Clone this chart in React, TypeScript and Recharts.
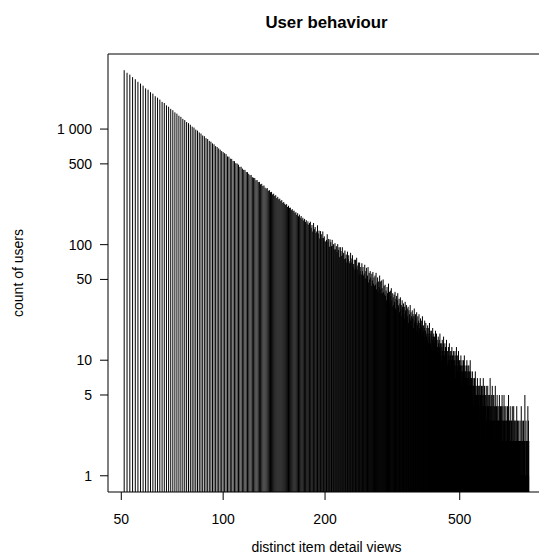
import React from "react";
import {
  BarChart,
  Bar,
  XAxis,
  YAxis,
  ReferenceArea,
} from "recharts";

// number of users per count of distinct item detail views, starting at 51 views
const FIRST_VIEW = 51;

// 51 - 100 views
const usersHead = [
  3230, 3070, 2960, 2815, 2700, 2565, 2475, 2375, 2250, 2190,
  2085, 2025, 1925, 1870, 1800, 1720, 1680, 1605, 1560, 1495,
  1455, 1395, 1360, 1305, 1275, 1225, 1195, 1150, 1125, 1090,
  1050, 1030, 990, 970, 935, 915, 880, 868, 835, 820,
  790, 778, 752, 738, 712, 700, 680, 664, 645, 632,
];

// 101 - 180 views
const usersMid = [
  618, 607, 580, 577, 555, 552, 530, 528, 507, 503,
  492, 471, 472, 455, 444, 443, 425, 424, 410, 399,
  401, 383, 379, 377, 361, 362, 348, 349, 333, 336,
  322, 325, 311, 305, 309, 293, 296, 284, 286, 272,
  276, 264, 268, 253, 259, 247, 250, 239, 243, 230,
  234, 226, 221, 224, 212, 217, 208, 209, 199, 203,
  195, 197, 188, 191, 181, 187, 176, 182, 171, 177,
  166, 171, 162, 167, 157, 163, 152, 159, 149, 154,
];

// 181 - 300 views
const usersUpper = [
  158, 140, 148, 130, 154, 136, 142, 126, 130, 147,
  125, 132, 113, 131, 123, 114, 130, 114, 118, 107,
  106, 110, 123, 106, 112, 96, 111, 105, 97, 110,
  98, 101, 91, 103, 91, 97, 86, 101, 90, 95,
  78, 95, 88, 80, 95, 82, 85, 75, 89, 76,
  82, 70, 87, 75, 81, 69, 72, 85, 70, 76,
  81, 64, 68, 74, 61, 74, 64, 77, 61, 66,
  70, 55, 70, 59, 64, 55, 69, 59, 64, 54,
  56, 67, 51, 59, 63, 51, 54, 64, 47, 57,
  50, 59, 52, 44, 56, 49, 58, 46, 52, 44,
  54, 45, 57, 41, 47, 52, 39, 48, 43, 54,
  41, 48, 38, 49, 42, 38, 50, 39, 44, 37,
];

// 301 - 600 views
const usersTail = [
  45, 36, 40, 33, 43, 38, 35, 46, 34, 39,
  31, 40, 36, 42, 33, 29, 38, 35, 30, 37,
  32, 39, 28, 34, 36, 27, 33, 38, 30, 29,
  34, 26, 31, 35, 28, 30, 24, 33, 29, 27,
  31, 25, 29, 23, 32, 27, 26, 30, 22, 28,
  24, 29, 21, 27, 25, 23, 30, 22, 26, 24,
  20, 27, 23, 25, 19, 24, 28, 21, 22, 25,
  23, 18, 26, 21, 20, 24, 17, 22, 25, 19,
  21, 18, 23, 16, 20, 22, 19, 24, 17, 18,
  20, 16, 19, 22, 15, 18, 21, 17, 16, 19,
  15, 20, 17, 14, 19, 16, 21, 15, 18, 14,
  17, 13, 18, 16, 15, 19, 12, 16, 17, 14,
  16, 12, 15, 18, 13, 14, 17, 11, 15, 13,
  12, 16, 14, 11, 15, 13, 17, 12, 14, 11,
  14, 10, 13, 15, 12, 11, 14, 16, 10, 12,
  11, 14, 9, 13, 12, 10, 15, 11, 12, 9,
  12, 10, 13, 9, 11, 14, 10, 8, 12, 11,
  9, 12, 10, 13, 8, 11, 10, 9, 12, 10,
  11, 8, 10, 12, 9, 7, 11, 10, 13, 8,
  9, 11, 8, 10, 7, 12, 9, 8, 10, 9,
  10, 7, 9, 11, 8, 6, 9, 10, 8, 7,
  9, 8, 10, 6, 8, 11, 7, 9, 8, 7,
  8, 6, 9, 7, 10, 8, 6, 7, 9, 8,
  7, 9, 6, 8, 5, 7, 10, 6, 8, 7,
  5, 7, 6, 4, 8, 5, 6, 7, 4, 6,
  6, 4, 7, 5, 5, 8, 4, 6, 5, 5,
  4, 6, 5, 7, 3, 5, 6, 4, 5, 6,
  5, 3, 6, 4, 7, 5, 4, 5, 3, 6,
  4, 5, 6, 3, 4, 5, 7, 4, 3, 5,
  4, 6, 3, 5, 4, 2, 5, 4, 6, 3,
];

// 601 - 800 views (0 = nobody, not drawn on the log scale)
const usersLong = [
  3, 5, 2, 4, 6, 3, 2, 4, 5, 3,
  4, 2, 5, 3, 7, 2, 4, 3, 1, 5,
  3, 4, 2, 6, 3, 1, 4, 5, 2, 3,
  5, 2, 3, 4, 1, 3, 6, 2, 4, 3,
  2, 4, 3, 1, 5, 3, 2, 4, 3, 2,
  3, 1, 4, 2, 5, 3, 2, 1, 3, 4,
  2, 3, 1, 4, 2, 3, 5, 1, 2, 3,
  4, 2, 1, 3, 2, 5, 2, 3, 1, 4,
  2, 3, 1, 2, 4, 3, 1, 2, 3, 2,
  1, 4, 2, 3, 1, 2, 5, 2, 1, 3,
  2, 3, 1, 2, 4, 1, 2, 3, 1, 2,
  3, 1, 2, 1, 4, 2, 1, 3, 2, 1,
  2, 4, 1, 2, 3, 1, 2, 1, 3, 2,
  1, 2, 3, 0, 2, 1, 4, 2, 1, 2,
  3, 1, 2, 1, 1, 2, 3, 1, 2, 1,
  2, 1, 1, 3, 2, 1, 2, 0, 1, 4,
  1, 2, 1, 1, 3, 1, 2, 1, 1, 2,
  1, 3, 1, 2, 1, 1, 2, 1, 5, 1,
  2, 1, 1, 1, 3, 1, 1, 2, 1, 2,
  1, 2, 1, 1, 4, 1, 2, 3, 1, 2,
];

const xTicks = [50, 100, 200, 500];
const yTicks = [1, 5, 10, 50, 100, 500, 1000];
const yTickLabels: Record<number, string> = {
  1: "1",
  5: "5",
  10: "10",
  50: "50",
  100: "100",
  500: "500",
  1000: "1 000",
};

const data = [...usersHead, ...usersMid, ...usersUpper, ...usersTail, ...usersLong]
  .map((users, i) => ({ views: FIRST_VIEW + i, users }))
  .filter((d) => d.users > 0);

// log axes padded by 4% like R does
const X_DOMAIN: [number, number] = [45.68, 893.2];
const Y_DOMAIN: [number, number] = [0.7238, 4463];

const FONT = "'Liberation Sans', Arial, Helvetica, sans-serif";

// type="h" style: a thin vertical stick from the bottom of the plot up to the value
const Stick = (props: any) => {
  const { x, y, width, height } = props;
  if (x == null || y == null || !isFinite(height)) return null;
  const cx = x + width / 2;
  return (
    <line
      x1={cx}
      x2={cx}
      y1={y}
      y2={y + height}
      stroke="#000"
      strokeWidth={1}
    />
  );
};

const App: React.FC = () => {
  return (
    <div
      style={{
        position: "absolute",
        left: 0,
        top: 0,
        width: 539,
        height: 556,
        overflow: "hidden",
        background: "#fff",
        fontFamily: FONT,
      }}
    >
      <BarChart
        width={560}
        height={556}
        data={data}
        margin={{ top: 54, right: 15, left: 8, bottom: 0 }}
      >
        <XAxis
          dataKey="views"
          type="number"
          scale="log"
          domain={X_DOMAIN}
          allowDataOverflow
          ticks={xTicks}
          interval={0}
          height={64}
          axisLine={false}
          tickLine={{ stroke: "#000" }}
          tickSize={8}
          tickMargin={14}
          tick={{ fill: "#000", fontSize: 14 }}
          label={{
            value: "distinct item detail views",
            position: "insideBottom",
            offset: 4,
            fill: "#000",
            fontSize: 14,
          }}
        />
        <YAxis
          type="number"
          scale="log"
          domain={Y_DOMAIN}
          allowDataOverflow
          ticks={yTicks}
          interval={0}
          width={100}
          axisLine={false}
          tickLine={{ stroke: "#000" }}
          tickSize={8}
          tickMargin={8}
          tick={{ fill: "#000", fontSize: 14 }}
          tickFormatter={(v: number) => yTickLabels[v] ?? String(v)}
          label={{
            value: "count of users",
            angle: -90,
            position: "insideLeft",
            offset: 10,
            fill: "#000",
            fontSize: 14,
            style: { textAnchor: "middle" },
          }}
        />
        <Bar
          dataKey="users"
          fill="#000"
          barSize={1}
          shape={Stick}
          isAnimationActive={false}
        />
        <ReferenceArea
          x1={X_DOMAIN[0]}
          x2={X_DOMAIN[1]}
          y1={Y_DOMAIN[0]}
          y2={Y_DOMAIN[1]}
          fill="none"
          fillOpacity={0}
          stroke="#000"
          strokeOpacity={1}
          label={{
            value: "User behaviour",
            position: "top",
            offset: 26,
            fill: "#000",
            fontSize: 16.8,
            fontWeight: "bold",
          }}
        />
      </BarChart>
    </div>
  );
};

export default App;
